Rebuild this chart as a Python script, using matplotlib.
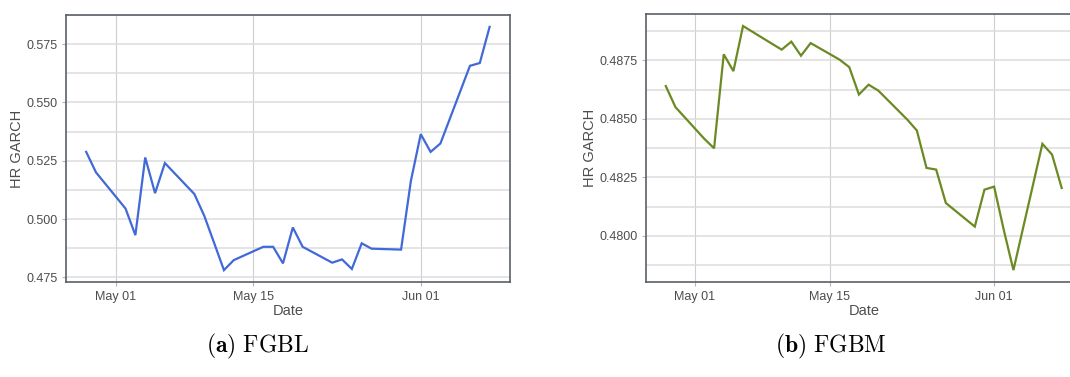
import numpy as np
import pandas as pd
import matplotlib
matplotlib.use("Agg")
import matplotlib.pyplot as plt
import matplotlib.dates as mdates
from matplotlib.ticker import FormatStrFormatter, MultipleLocator

plt.rcParams["font.family"] = ["Liberation Sans", "DejaVu Sans"]
plt.rcParams["mathtext.fontset"] = "cm"

# trading days, Apr 28 - Jun 08 2022
dates = pd.to_datetime([
    "2022-04-28", "2022-04-29", "2022-05-02", "2022-05-03", "2022-05-04",
    "2022-05-05", "2022-05-06", "2022-05-09", "2022-05-10", "2022-05-11",
    "2022-05-12", "2022-05-13", "2022-05-16", "2022-05-17", "2022-05-18",
    "2022-05-19", "2022-05-20", "2022-05-23", "2022-05-24", "2022-05-25",
    "2022-05-26", "2022-05-27", "2022-05-30", "2022-05-31", "2022-06-01",
    "2022-06-02", "2022-06-03", "2022-06-06", "2022-06-07", "2022-06-08",
])

hr_fgbl = [
    0.5288, 0.5200, 0.5045, 0.4931, 0.5264,
    0.5111, 0.5240, 0.5107, 0.5014, 0.4898,
    0.4781, 0.4824, 0.4881, 0.4881, 0.4810,
    0.4964, 0.4881, 0.4813, 0.4827, 0.4786,
    0.4896, 0.4873, 0.4869, 0.5164, 0.5364,
    0.5288, 0.5324, 0.5657, 0.5669, 0.5824,
]

hr_fgbm = [
    0.48640, 0.48550, 0.48414, 0.48374, 0.48776,
    0.48704, 0.48897, 0.48821, 0.48796, 0.48830,
    0.48770, 0.48824, 0.48753, 0.48721, 0.48604,
    0.48646, 0.48621, 0.48497, 0.48450, 0.48290,
    0.48283, 0.48140, 0.48039, 0.48197, 0.48210,
    0.48025, 0.47853, 0.48393, 0.48347, 0.48204,
]

date_ticks = pd.to_datetime(["2022-05-01", "2022-05-15", "2022-06-01"])

W, H = 1070, 377
fig = plt.figure(figsize=(W / 100, H / 100), dpi=100)

frame_col = "#596066"
grid_col = "#dcdcdc"
text_col = "#4d4d4d"


def panel(rect, y, color, ystep, yfmt, caption, cx):
    ax = fig.add_axes(rect)
    ax.plot(dates, y, color=color, lw=1.6, solid_joinstyle="miter")

    # 5% padding on both axes
    x0, x1 = mdates.date2num(dates[0]), mdates.date2num(dates[-1])
    dx = (x1 - x0) * 0.05
    ax.set_xlim(x0 - dx, x1 + dx)
    lo, hi = min(y), max(y)
    dy = (hi - lo) * 0.05
    ax.set_ylim(lo - dy, hi + dy)

    ax.set_xticks(date_ticks)
    ax.xaxis.set_major_formatter(mdates.DateFormatter("%b %d"))
    ax.yaxis.set_major_locator(MultipleLocator(ystep))
    ax.yaxis.set_minor_locator(MultipleLocator(ystep / 2))
    ax.yaxis.set_major_formatter(FormatStrFormatter(yfmt))

    ax.grid(True, axis="y", which="both", color=grid_col, lw=1.1)
    ax.grid(True, axis="x", which="major", color="#cfcfcf", lw=0.8)
    ax.set_axisbelow(True)

    for s in ax.spines.values():
        s.set_color(frame_col)
        s.set_linewidth(1.2)

    ax.tick_params(which="major", length=3, width=0.8, color="#b5b5b5",
                   labelsize=9, labelcolor=text_col, pad=3)
    ax.tick_params(which="minor", length=0)

    ax.set_xlabel("Date", fontsize=10.5, color=text_col, labelpad=1)
    ax.set_ylabel("HR GARCH", fontsize=10.5, color=text_col, labelpad=2)

    fig.text(cx / W, 1 - 346 / H, caption, fontsize=17, ha="center",
             va="center", color="black")
    return ax


panel([66 / W, 1 - 282.3 / H, 443.8 / W, 267.6 / H], hr_fgbl, "#4169d8",
      0.025, "%.3f", r"$\mathbf{(a)}\ \mathrm{FGBL}$", 258)
panel([646 / W, 1 - 282.3 / H, 435.5 / W, 268.5 / H], hr_fgbm, "#6b8a23",
      0.0025, "%.4f", r"$\mathbf{(b)}\ \mathrm{FGBM}$", 831)

fig.savefig("out.png", dpi=100)
